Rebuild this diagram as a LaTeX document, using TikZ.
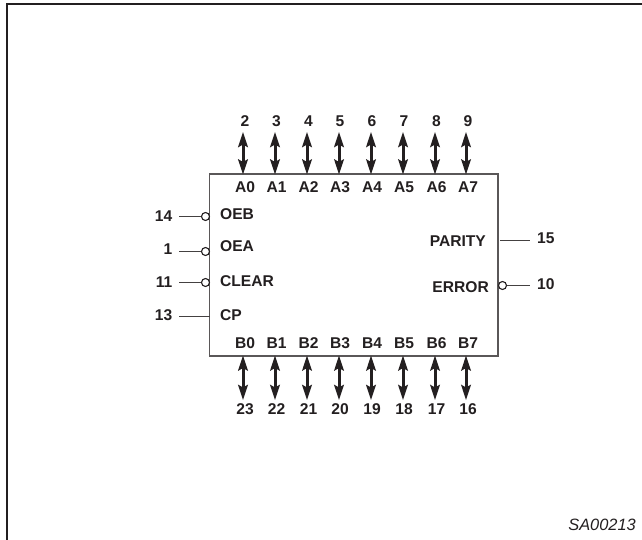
\documentclass[tikz,border=0pt]{standalone}
\usepackage{fontspec}
\setmainfont{Liberation Sans}
\usetikzlibrary{arrows.meta}
\definecolor{ink}{HTML}{231F20}
\tikzset{
  x=1pt,y=-1pt,
  lab/.style={font=\fontsize{15.6}{16}\selectfont\bfseries,text=ink,inner sep=0pt,text height=10.5pt,text depth=0pt},
  wire/.style={draw=ink!85,line width=1.5pt},
  bus/.style={draw=ink,line width=3pt,{Stealth[length=15pt,width=9.5pt,inset=2.5pt]}-{Stealth[length=15pt,width=9.5pt,inset=2.5pt]}},
  bubble/.style={circle,draw=ink,fill=white,line width=1.1pt,minimum size=8pt,inner sep=0pt},
  chip/.style={draw=ink!75,line width=1.5pt,rectangle,inner sep=0pt,minimum width=288.5pt,minimum height=182pt},
}
\begin{document}
\begin{tikzpicture}
\useasboundingbox (0,0) rectangle (642,540);
\coordinate (fnw) at (7,4);
\coordinate (fne) at (642,4);
\coordinate (fsw) at (7,540);
\draw[draw=ink,line width=2.2pt] (fsw) -- (fnw) -- (fne);
\node[chip] (box) at (353.75,265) {};
% top and bottom buses
\foreach \i/\x/\n/\m/\lx in {0/243/2/23/245,1/275/3/22/276.5,2/307/4/21/308.5,3/339/5/20/340,4/371/6/19/372,5/403/7/18/404,6/435/8/17/436.5,7/466/9/16/468}{
  \coordinate (tt\i) at (\x,132);
  \coordinate (tb\i) at (\x,174.5);
  \coordinate (bt\i) at (\x,355.5);
  \coordinate (bb\i) at (\x,400);
  \draw[bus] (tt\i) -- (tb\i);
  \draw[bus] (bt\i) -- (bb\i);
  \node[lab] (nt\i) at (\lx,121.5) {\n};
  \node[lab] (la\i) at (\lx,187.5) {A\i};
  \node[lab] (lb\i) at (\lx,343) {B\i};
  \node[lab] (nb\i) at (\lx,409) {\m};
}
% left pins
\foreach \k/\y/\t/\n/\ty/\ny in {a/216.5/OEB/14/214/216,b/251.5/OEA/1/246.7/249,c/282.5/CLEAR/11/281/282}{
  \node[bubble] (p\k) at (205.5,\y) {};
  \coordinate (w\k) at (179,\y);
  \draw[wire] (w\k) -- (p\k);
  \node[lab,anchor=west] (t\k) at (220,\ty) {\t};
  \node[lab,anchor=east] (n\k) at (172.5,\ny) {\n};
}
\coordinate (wd) at (179,316.5);
\coordinate (pd) at (209.5,316.5);
\draw[wire] (wd) -- (pd);
\node[lab,anchor=west] (td) at (220,315) {CP};
\node[lab,anchor=east] (nd) at (172.5,315) {13};
% right pins
\coordinate (pe) at (500,240.5);
\coordinate (we) at (530,240.5);
\draw[wire] (pe) -- (we);
\node[lab,anchor=east] (te) at (486,241.5) {PARITY};
\node[lab,anchor=west] (ne) at (537,238.5) {15};
\node[bubble] (pf) at (502.5,285.5) {};
\coordinate (wf) at (530,285.5);
\draw[wire] (pf) -- (wf);
\node[lab,anchor=east] (tf) at (489,287.5) {ERROR};
\node[lab,anchor=west] (nf) at (537,284.5) {10};
\node[anchor=east,inner sep=0pt,text=ink,font=\fontsize{16.4}{17}\selectfont\itshape] (ref) at (636,525) {SA00213};
\end{tikzpicture}
\end{document}
